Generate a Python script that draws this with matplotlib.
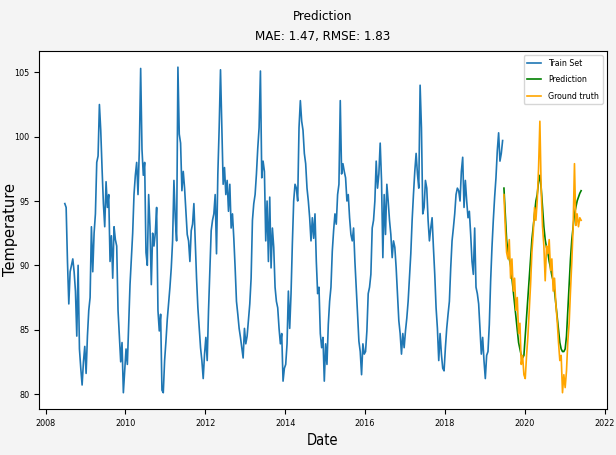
import pandas as pd
import matplotlib.pyplot as plt
import matplotlib.dates as mdates
from matplotlib import font_manager

# Serie de temperatura, ~30 lecturas por año (cada temporada va de junio a junio)
temp_2008 = [94.8, 94.5, 90.3, 87.0, 89.5, 90.0, 90.5, 89.5, 88.0, 84.5,
             90.0, 83.5, 82.0, 80.7, 82.5, 83.7, 81.6, 84.5, 86.5, 87.5,
             93.0, 89.5, 92.5, 94.0, 98.0, 98.5, 102.5, 100.5, 97.5, 94.8]
temp_2009 = [93.0, 96.5, 94.5, 95.5, 90.3, 92.3, 89.0, 93.0, 92.0, 91.5,
             86.5, 84.5, 82.5, 84.0, 80.1, 81.8, 83.5, 82.3, 85.5, 88.5,
             90.5, 92.5, 95.5, 97.0, 98.0, 95.5, 99.0, 105.3, 99.0, 97.0]
temp_2010 = [98.0, 91.0, 90.0, 95.5, 93.0, 88.5, 92.5, 91.5, 92.5, 94.5,
             86.5, 84.9, 86.2, 80.3, 80.1, 82.6, 84.1, 85.8, 87.0, 88.3,
             89.8, 91.9, 96.6, 93.7, 91.9, 105.4, 100.2, 99.5, 95.8, 97.3]
temp_2011 = [96.0, 94.2, 92.4, 91.9, 90.3, 92.7, 93.2, 94.8, 91.9, 89.0,
             86.7, 85.1, 83.6, 82.6, 81.2, 83.1, 84.4, 82.6, 86.5, 89.5,
             92.7, 93.5, 94.0, 95.5, 90.9, 97.1, 100.7, 105.2, 100.7, 96.3]
temp_2012 = [97.6, 95.5, 96.6, 94.2, 96.3, 92.9, 94.0, 92.1, 89.8, 87.2,
             86.2, 85.1, 84.4, 83.6, 82.8, 85.1, 83.9, 84.5, 85.7, 87.0,
             89.0, 93.5, 94.8, 95.5, 97.1, 99.1, 100.7, 105.1, 96.8, 98.1]
temp_2013 = [97.3, 91.9, 95.0, 90.3, 95.3, 89.8, 92.9, 91.4, 88.3, 87.2,
             86.7, 85.1, 83.9, 84.7, 81.0, 82.0, 82.3, 83.9, 88.0, 85.1,
             87.8, 91.7, 95.0, 96.3, 96.0, 95.0, 100.7, 102.8, 101.2, 100.5]
temp_2014 = [98.7, 97.9, 96.0, 95.0, 93.7, 91.9, 93.7, 92.1, 94.0, 90.3,
             87.8, 88.3, 84.7, 83.6, 84.4, 81.0, 83.9, 82.3, 85.4, 87.2,
             88.3, 91.1, 92.7, 94.0, 93.2, 95.5, 96.3, 102.8, 97.1, 97.9]
temp_2015 = [97.3, 96.8, 95.0, 95.5, 93.7, 92.4, 91.9, 92.9, 90.3, 88.3,
             86.2, 84.1, 83.3, 81.5, 83.9, 83.1, 83.3, 84.9, 87.8, 88.3,
             89.3, 92.9, 93.5, 95.0, 98.1, 96.0, 97.1, 99.5, 96.6, 90.6]
temp_2016 = [95.5, 92.4, 96.3, 95.0, 93.5, 92.4, 90.6, 91.9, 91.4, 89.8,
             87.8, 85.7, 84.7, 83.1, 84.7, 83.6, 84.9, 85.9, 87.2, 89.0,
             90.9, 93.5, 95.5, 97.3, 98.7, 97.1, 96.0, 104.0, 100.7, 94.0]
temp_2017 = [94.5, 96.6, 96.0, 93.5, 91.9, 92.9, 93.7, 91.4, 89.3, 86.7,
             85.1, 82.6, 84.7, 83.1, 82.0, 81.8, 83.6, 85.1, 86.2, 87.2,
             89.8, 91.9, 92.9, 94.0, 95.5, 96.0, 95.8, 95.0, 97.3, 98.4]
temp_2018 = [94.5, 96.6, 95.0, 93.7, 94.2, 92.4, 90.3, 89.3, 92.9, 88.3,
             87.8, 87.0, 85.1, 83.1, 84.4, 82.6, 81.2, 83.0, 83.3, 85.4,
             88.8, 91.4, 93.5, 95.3, 96.8, 98.9, 100.3, 98.1, 98.7, 99.7]

# Periodo de prueba: valores reales y prediccion del modelo
real = [95.5, 93.0, 91.0, 90.5, 92.0, 89.0, 90.5, 88.0, 89.0, 86.5,
        87.5, 84.7, 85.5, 82.3, 83.0, 81.5, 81.2, 83.0, 84.5, 86.5,
        88.5, 91.0, 92.5, 94.5, 93.5, 95.0, 97.5, 101.2, 95.8, 93.0,
        91.5, 88.8, 91.5, 90.9, 92.0, 89.6, 90.5, 88.0, 89.0, 87.0,
        85.7, 84.0, 82.6, 83.0, 80.1, 81.5, 80.5, 81.8, 84.1, 85.5,
        88.0, 90.3, 93.0, 97.9, 93.1, 94.0, 93.0, 93.7, 93.5]
prediccion = [96.0, 94.0, 92.0, 91.0, 90.5, 90.0, 89.0, 88.0, 87.0, 86.0,
              85.0, 84.0, 83.5, 83.0, 82.8, 83.0, 84.5, 86.0, 87.5, 89.0,
              90.5, 92.0, 93.0, 94.0, 95.0, 95.5, 96.5, 97.0, 96.0, 94.5,
              93.0, 92.0, 91.4, 91.0, 90.3, 89.8, 89.2, 88.8, 88.0, 87.0,
              86.0, 85.0, 84.0, 83.5, 83.3, 83.3, 83.5, 84.5, 86.5, 88.5,
              90.5, 92.0, 93.0, 94.0, 94.5, 95.0, 95.3, 95.6, 95.8]

train = (temp_2008 + temp_2009 + temp_2010 + temp_2011 + temp_2012 + temp_2013
         + temp_2014 + temp_2015 + temp_2016 + temp_2017 + temp_2018)

paso = pd.Timedelta(days=365.25 / 30)
fechas_train = pd.date_range('2008-06-25', periods=len(train), freq=paso)
fechas_test = pd.date_range(fechas_train[-1] + paso, periods=len(real), freq=paso)

# Buscamos una fuente estrecha si hay alguna instalada
archivo_estrecho = None
for clave in ['LiberationSansNarrow-Regular', 'DejaVuSansCondensed.ttf',
              'RobotoCondensed-Regular', 'Roboto-Condensed', 'OpenSans-Condensed',
              'NotoSans-Condensed.', 'OpenSansCondensed-Light']:
    for f in font_manager.fontManager.ttflist:
        if clave in f.fname:
            archivo_estrecho = f.fname
            break
    if archivo_estrecho:
        break


def fuente(size):
    if archivo_estrecho:
        return font_manager.FontProperties(fname=archivo_estrecho, size=size)
    return font_manager.FontProperties(family='DejaVu Sans', size=size * 0.85)


fig = plt.figure(figsize=(6.16, 4.55), dpi=100, facecolor='#f4f4f4')
ax = fig.add_axes([0.0633, 0.1011, 0.922, 0.787])

ax.plot(fechas_train, train, color='#1f77b4', lw=1.2, label='Train Set')
ax.plot(fechas_test, prediccion, color='green', lw=1.2, label='Prediction')
ax.plot(fechas_test, real, color='orange', lw=1.2, label='Ground truth')

ax.xaxis.set_major_locator(mdates.YearLocator(2))
ax.xaxis.set_major_formatter(mdates.DateFormatter('%Y'))
for lbl in ax.get_xticklabels() + ax.get_yticklabels():
    lbl.set_fontproperties(fuente(6.5))

ax.set_title('Prediction\nMAE: 1.47, RMSE: 1.83', fontproperties=fuente(9.5),
             linespacing=1.7, pad=8)
ax.set_xlabel('Date', fontproperties=fuente(10.5))
ax.set_ylabel('Temperature', fontsize=10.5)
ax.yaxis.set_label_coords(-0.037, 0.5)
ax.legend(loc='upper right', prop=fuente(6.3), handlelength=1.6,
          labelspacing=0.85)

fig.savefig('out.png', dpi=100, facecolor=fig.get_facecolor())
